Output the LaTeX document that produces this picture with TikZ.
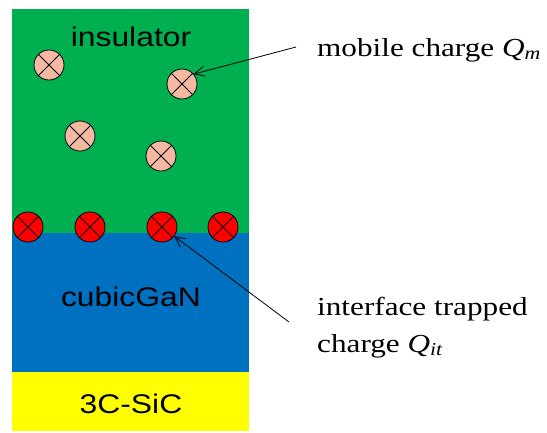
\documentclass[tikz,border=0pt]{standalone}
\usepackage{fontspec}
\setmainfont[FakeStretch=1.2]{Liberation Serif}
\setsansfont[FakeStretch=1.18]{Liberation Sans}
\usetikzlibrary{arrows.meta}
\definecolor{insgreen}{RGB}{0,176,80}
\definecolor{ganblue}{RGB}{0,112,192}
\definecolor{sicyellow}{RGB}{255,255,0}
\definecolor{mobpink}{RGB}{244,185,160}
\begin{document}
\begin{tikzpicture}[x=1pt,y=-1pt,
    charge/.style={circle,draw,line width=0.8pt,minimum size=30pt,inner sep=0pt},
    layertext/.style={font=\sffamily\fontsize{27}{32}\selectfont,anchor=base,inner sep=0pt},
    labeltext/.style={font=\fontsize{26}{37}\selectfont,anchor=base west,inner sep=0pt,align=left},
    pointer/.style={-{Straight Barb[length=10pt,width=10pt]},line width=0.8pt}]
    \useasboundingbox (0,0) rectangle (547,432);
    % Layers
    \fill[insgreen] (12,9) rectangle (249,233);
    \fill[ganblue] (12,233) rectangle (249,372);
    \fill[sicyellow] (12,372) rectangle (249,431);
    \node[layertext] (ins) at (131,46) {insulator};
    \node[layertext] (gan) at (131,306) {cubicGaN};
    \node[layertext] (sic) at (131,413) {3C-SiC};
    % Mobile charges in the insulator
    \foreach \n/\x/\y in {m1/49/65, m2/182/84, m3/80/136, m4/161/156} {
        \node[charge,fill=mobpink] (\n) at (\x,\y) {};
        \draw[line width=0.8pt] (\n.45) -- (\n.225) (\n.135) -- (\n.315);
    }
    % Trapped charges at the interface
    \foreach \n/\x in {r1/28, r2/90, r3/162, r4/223} {
        \node[charge,fill=red] (\n) at (\x,227) {};
        \draw[line width=0.8pt] (\n.45) -- (\n.225) (\n.135) -- (\n.315);
    }
    % Labels
    \node[labeltext] (mob) at (317,56) {mobile charge \textit{Q}\textsubscript{\textit{m}}};
    \node[labeltext] (trap) at (317,352) {interface trapped\\charge \textit{Q}\textsubscript{\textit{it}}};
    \coordinate (mobstart) at (296,47);
    \coordinate (trapstart) at (289,322);
    \draw[pointer] (mobstart) -- (m2.40);
    \draw[pointer] (trapstart) -- (r3);
\end{tikzpicture}
\end{document}
